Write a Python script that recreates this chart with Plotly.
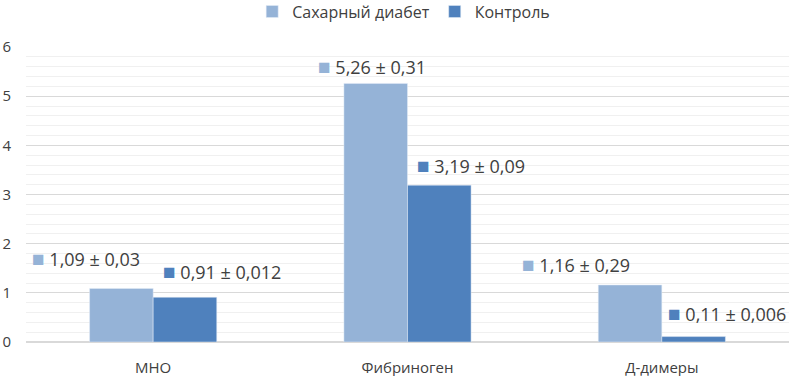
import plotly.graph_objects as go

categories = ["МНО", "Фибриноген", "Д-димеры"]
series_names = ["Сахарный диабет", "Контроль"]
diabetes = [1.09, 5.26, 1.16]
control = [0.91, 3.19, 0.11]
diabetes_labels = ["1,09 ± 0,03", "5,26 ± 0,31", "1,16 ± 0,29"]
control_labels = ["0,91 ± 0,012", "3,19 ± 0,09", "0,11 ± 0,006"]
y_ticks = [0, 1, 2, 3, 4, 5, 6]

light = "#95B3D7"
dark = "#4F81BD"
txt = "#404040"
font_family = "Open Sans"

fig = go.Figure()
fig.add_trace(go.Bar(name=series_names[0], x=categories, y=diabetes, marker_color=light))
fig.add_trace(go.Bar(name=series_names[1], x=categories, y=control, marker_color=dark))

# label offsets (pixels from category centre / bar top)
d_xshift = [-67, -36, -86]
d_yshift = [30, 17, 21]
c_xshift = [69, 63, 65]
c_yshift = [26, 20, 24]

for i, cat in enumerate(categories):
    fig.add_annotation(x=cat, y=diabetes[i], xref="x", yref="y", showarrow=False,
                       text=f"<span style='color:{light};font-size:21px'>■</span> {diabetes_labels[i]}",
                       xshift=d_xshift[i], yshift=d_yshift[i], yanchor="middle",
                       font=dict(size=18, color=txt, family=font_family))
    fig.add_annotation(x=cat, y=control[i], xref="x", yref="y", showarrow=False,
                       text=f"<span style='color:{dark};font-size:21px'>■</span> {control_labels[i]}",
                       xshift=c_xshift[i], yshift=c_yshift[i], yanchor="middle",
                       font=dict(size=18, color=txt, family=font_family))

fig.update_layout(
    width=790, height=376,
    margin=dict(l=26, r=1, t=47, b=34, autoexpand=False),
    paper_bgcolor="white", plot_bgcolor="white",
    barmode="group", bargap=0.5, bargroupgap=0,
    font=dict(family=font_family, color=txt, size=15),
    legend=dict(orientation="h", x=0.495, xanchor="center", y=1.12, yref="paper",
                yanchor="middle", font=dict(size=16, color=txt), itemwidth=30,
                tracegroupgap=0),
    showlegend=True,
)
fig.update_yaxes(range=[0, 6], tickvals=y_ticks, showgrid=True, gridcolor="#D9D9D9",
                 gridwidth=1, zeroline=True, zerolinecolor="#D9D9D9",
                 minor=dict(dtick=0.2, showgrid=True, gridcolor="#F0F0F0", gridwidth=1),
                 tickfont=dict(size=15, color=txt), ticklabelstandoff=14)
fig.update_xaxes(showline=True, linecolor="#D9D9D9", tickfont=dict(size=15, color=txt),
                 ticklabelstandoff=12)

fig.write_html("out.html", config={"displayModeBar": False},
               post_script="document.body.style.margin='0';")
